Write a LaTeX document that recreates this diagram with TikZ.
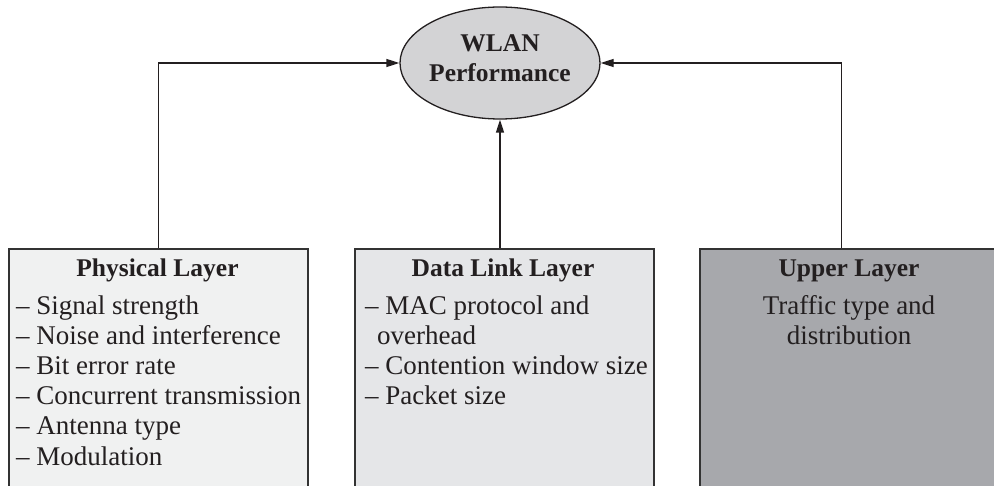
\documentclass[tikz,border=0pt]{standalone}
\usepackage{fontspec}
\setmainfont{Liberation Serif}
\usetikzlibrary{arrows.meta,shapes.geometric}
\definecolor{physfill}{HTML}{F0F1F1}
\definecolor{dllfill}{HTML}{E5E6E8}
\definecolor{upfill}{HTML}{A7A8AC}
\definecolor{ellfill}{HTML}{D3D3D5}
\definecolor{edge}{HTML}{333333}
\definecolor{txt}{HTML}{231F20}
\tikzset{
  layerbox/.style={draw=edge, line width=2.4pt, minimum height=300pt, anchor=north west, inner sep=0pt},
  txtline/.style={anchor=base west, inner sep=0pt, text=txt, font=\fontsize{27}{30}\selectfont},
  ctrline/.style={anchor=base, inner sep=0pt, text=txt, font=\fontsize{27}{30}\selectfont},
  titleline/.style={anchor=base, inner sep=0pt, text=txt, font=\fontsize{25.5}{30}\selectfont\bfseries},
  conn/.style={draw=txt, line width=1.3pt, -{Triangle[length=13pt,width=8pt]}},
}
\begin{document}
\begin{tikzpicture}[x=1pt,y=-1pt]
\useasboundingbox (0,0) rectangle (994,486);
% WLAN ellipse
\node[ellipse, draw=txt, line width=1.3pt, fill=ellfill, minimum width=200pt, minimum height=112pt, inner sep=0pt] (wlan) at (500,63) {};
\node[titleline] (w1) at (500,52) {WLAN};
\node[titleline] (w2) at (500,82) {Performance};
% boxes
\node[layerbox, fill=physfill, minimum width=299pt] (phys) at (8,248) {};
\node[layerbox, fill=dllfill, minimum width=299pt] (dll) at (354,248) {};
\node[layerbox, fill=upfill, minimum width=300pt] (up) at (699,248) {};
% physical text
\node[titleline] (pt) at (157.5,277) {Physical Layer};
\node[txtline] (p1) at (16,315) {– Signal strength};
\node[txtline] (p2) at (16,345) {– Noise and interference};
\node[txtline] (p3) at (16,375) {– Bit error rate};
\node[txtline] (p4) at (16,405) {– Concurrent transmission};
\node[txtline] (p5) at (16,435) {– Antenna type};
\node[txtline] (p6) at (16,465) {– Modulation};
% data link text
\node[titleline] (dt) at (503,277) {Data Link Layer};
\node[txtline] (d1) at (365,315) {– MAC protocol and};
\node[txtline] (d2) at (377,345) {overhead};
\node[txtline] (d3) at (365,375) {– Contention window size};
\node[txtline] (d4) at (365,405) {– Packet size};
% upper text
\node[titleline] (ut) at (849,277) {Upper Layer};
\node[ctrline] (u1) at (849,315) {Traffic type and};
\node[ctrline] (u2) at (849,345) {distribution};
% connectors
\draw[conn] (phys.north) |- (wlan.west);
\draw[conn] (wlan.south |- dll.north) -- (wlan.south);
\draw[conn] ([xshift=-9pt]up.north) |- (wlan.east);
\end{tikzpicture}
\end{document}
